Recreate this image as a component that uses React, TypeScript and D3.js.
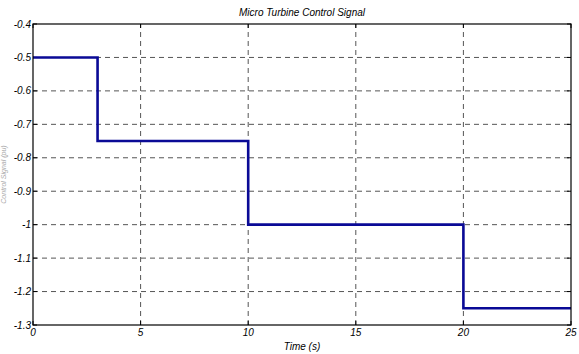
import React, { useRef, useEffect } from 'react';
import * as d3 from 'd3';

// step signal
const times = [0, 3, 10, 20, 25];
const signal = [-0.5, -0.75, -1, -1.25, -1.25];

const xTicks = [0, 5, 10, 15, 20, 25];
const yTicks = [-1.3, -1.2, -1.1, -1, -0.9, -0.8, -0.7, -0.6, -0.5, -0.4];

const title = 'Micro Turbine Control Signal';
const xLabel = 'Time (s)';
const yLabel = 'Control Signal (pu)';

export default function App() {
  const svgRef = useRef<SVGSVGElement>(null);

  useEffect(() => {
    const width = 579;
    const height = 354;
    const m = { top: 24, right: 8, bottom: 29, left: 33 };
    const font = '"Liberation Sans", Arial, sans-serif';

    const svg = d3.select(svgRef.current);
    svg.selectAll('*').remove();
    svg.attr('width', width).attr('height', height).style('background', '#fff');

    const x = d3.scaleLinear().domain([0, 25]).range([m.left, width - m.right]);
    const y = d3.scaleLinear().domain([-1.3, -0.4]).range([height - m.bottom, m.top]);

    const [x0, x1] = x.range();
    const [y0, y1] = y.range();

    // dashed grid
    svg.append('g')
      .selectAll('line')
      .data(xTicks.slice(1, -1))
      .join('line')
      .attr('x1', d => x(d)).attr('x2', d => x(d))
      .attr('y1', y0).attr('y2', y1)
      .attr('stroke', '#555')
      .attr('stroke-width', 1)
      .attr('stroke-dasharray', '5,4');

    svg.append('g')
      .selectAll('line')
      .data(yTicks.slice(1, -1))
      .join('line')
      .attr('y1', d => y(d)).attr('y2', d => y(d))
      .attr('x1', x0).attr('x2', x1)
      .attr('stroke', '#555')
      .attr('stroke-width', 1)
      .attr('stroke-dasharray', '5,4');

    // small inward ticks
    const tl = 4;
    xTicks.forEach(t => {
      svg.append('line').attr('x1', x(t)).attr('x2', x(t)).attr('y1', y0).attr('y2', y0 - tl).attr('stroke', '#000');
      svg.append('line').attr('x1', x(t)).attr('x2', x(t)).attr('y1', y1).attr('y2', y1 + tl).attr('stroke', '#000');
    });
    yTicks.forEach(t => {
      svg.append('line').attr('x1', x0).attr('x2', x0 + tl).attr('y1', y(t)).attr('y2', y(t)).attr('stroke', '#000');
      svg.append('line').attr('x1', x1).attr('x2', x1 - tl).attr('y1', y(t)).attr('y2', y(t)).attr('stroke', '#000');
    });

    // signal
    const line = d3.line<number>()
      .x((d, i) => x(times[i]))
      .y(d => y(d))
      .curve(d3.curveStepAfter);

    svg.append('path')
      .datum(signal)
      .attr('d', line)
      .attr('fill', 'none')
      .attr('stroke', '#0a0a96')
      .attr('stroke-width', 2.6);

    // frame
    svg.append('rect')
      .attr('x', x0).attr('y', y1)
      .attr('width', x1 - x0).attr('height', y0 - y1)
      .attr('fill', 'none')
      .attr('stroke', '#000')
      .attr('stroke-width', 1.2);

    // tick labels
    svg.append('g')
      .selectAll('text')
      .data(xTicks)
      .join('text')
      .attr('x', d => x(d))
      .attr('y', y0 + 11)
      .attr('text-anchor', 'middle')
      .style('font-family', font)
      .style('font-style', 'italic')
      .style('font-size', '10px')
      .text(d => String(d));

    svg.append('g')
      .selectAll('text')
      .data(yTicks)
      .join('text')
      .attr('x', x0 - 2)
      .attr('y', d => y(d))
      .attr('dy', '0.35em')
      .attr('text-anchor', 'end')
      .style('font-family', font)
      .style('font-style', 'italic')
      .style('font-size', '10px')
      .text(d => String(d));

    // titles
    svg.append('text')
      .attr('x', (x0 + x1) / 2)
      .attr('y', 16)
      .attr('text-anchor', 'middle')
      .style('font-family', font)
      .style('font-style', 'italic')
      .style('font-size', '10px')
      .text(title);

    svg.append('text')
      .attr('x', (x0 + x1) / 2)
      .attr('y', height - 4)
      .attr('text-anchor', 'middle')
      .style('font-family', font)
      .style('font-style', 'italic')
      .style('font-size', '10px')
      .text(xLabel);

    // faint y label squeezed at the left edge
    svg.append('text')
      .attr('transform', `translate(6, ${(y0 + y1) / 2}) rotate(-90)`)
      .attr('text-anchor', 'middle')
      .style('font-family', font)
      .style('font-style', 'italic')
      .style('font-size', '7px')
      .style('fill', '#aaa')
      .text(yLabel);
  }, []);

  return <svg ref={svgRef} style={{ position: 'absolute', left: 0, top: 0 }}></svg>;
}
